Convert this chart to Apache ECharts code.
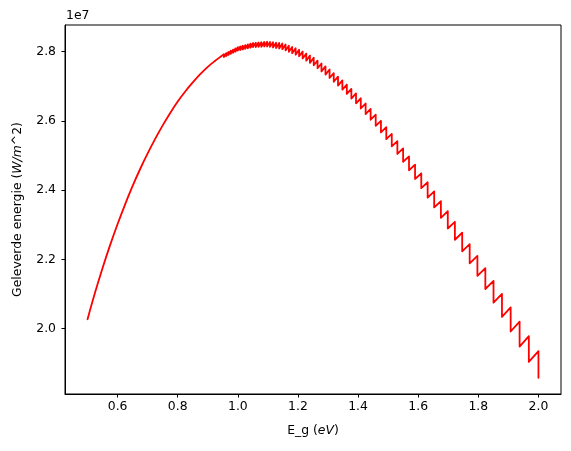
<!DOCTYPE html>
<html>
<head>
<meta charset="utf-8">
<script src="https://cdn.jsdelivr.net/npm/echarts@6/dist/echarts.min.js"></script>
<style>
html,body{margin:0;padding:0;background:#fff;}
#c{width:571px;height:451px;}
</style>
</head>
<body>
<div id="c"></div>
<script>
// Smooth low-energy part (E_g in eV, energy in units of 1e7 W/m^2)
const smoothE = [0.5, 0.525, 0.55, 0.575, 0.6, 0.625, 0.65, 0.675, 0.7, 0.725, 0.75, 0.775, 0.8, 0.825, 0.85, 0.875, 0.9, 0.925];
const smoothY = [2.027, 2.104, 2.175, 2.241, 2.302, 2.359, 2.412, 2.461, 2.506, 2.548, 2.587, 2.623, 2.656, 2.685, 2.711, 2.735, 2.756, 2.774];

// Saw-tooth part: position of each drop, value just before (peak) and after (bottom)
const toothE = [0.9537,0.9611,0.9686,0.9763,0.9840,0.9919,0.9999,1.0080,1.0163,1.0247,
  1.0332,1.0419,1.0507,1.0597,1.0688,1.0781,1.0876,1.0972,1.1070,1.1170,
  1.1271,1.1375,1.1480,1.1587,1.1697,1.1808,1.1922,1.2037,1.2155,1.2276,
  1.2398,1.2524,1.2651,1.2782,1.2915,1.3051,1.3190,1.3332,1.3477,1.3625,
  1.3776,1.3931,1.4089,1.4251,1.4417,1.4586,1.4760,1.4938,1.5120,1.5307,
  1.5498,1.5694,1.5895,1.6102,1.6314,1.6531,1.6755,1.6984,1.7220,1.7463,
  1.7712,1.7969,1.8233,1.8505,1.8786,1.9075,1.9373,1.9680,2.0000];
const toothPeak = [2.7927,2.7959,2.7992,2.8026,2.8060,2.8095,2.8130,2.8150,2.8170,2.8189,
  2.8210,2.8231,2.8250,2.8258,2.8265,2.8273,2.8281,2.8288,2.8282,2.8271,
  2.8259,2.8248,2.8235,2.8205,2.8171,2.8135,2.8100,2.8058,2.8002,2.7944,
  2.7886,2.7822,2.7742,2.7659,2.7574,2.7483,2.7381,2.7277,2.7169,2.7049,
  2.6923,2.6792,2.6653,2.6502,2.6348,2.6182,2.6002,2.5819,2.5622,2.5416,
  2.5205,2.4973,2.4735,2.4485,2.4227,2.3961,2.3679,2.3391,2.3084,2.2769,
  2.2441,2.2101,2.1746,2.1379,2.1002,2.0611,2.0200,1.9780,1.9349];
const toothBottom = [2.7846,2.7875,2.7905,2.7935,2.7966,2.7998,2.8030,2.8047,2.8063,2.8079,
  2.8097,2.8114,2.8130,2.8134,2.8137,2.8142,2.8146,2.8149,2.8138,2.8122,
  2.8105,2.8089,2.8071,2.8036,2.7996,2.7955,2.7914,2.7866,2.7804,2.7740,
  2.7676,2.7606,2.7519,2.7430,2.7338,2.7240,2.7131,2.7020,2.6905,2.6778,
  2.6644,2.6506,2.6358,2.6197,2.6033,2.5857,2.5666,2.5473,2.5264,2.5044,
  2.4820,2.4574,2.4322,2.4057,2.3782,2.3499,2.3199,2.2892,2.2566,2.2232,
  2.1884,2.1523,2.1143,2.0748,2.0338,1.9915,1.9480,1.9036,1.8579];

const xTicks = [0.6, 0.8, 1.0, 1.2, 1.4, 1.6, 1.8, 2.0];
const yTicks = [2.0, 2.2, 2.4, 2.6, 2.8];

const smoothData = [];
for (let i = 0; i < smoothE.length; i++) smoothData.push([smoothE[i], smoothY[i]]);
const toothData = [[smoothE[smoothE.length - 1], smoothY[smoothY.length - 1]]];
for (let i = 0; i < toothE.length; i++) {
  toothData.push([toothE[i], toothPeak[i]]);
  toothData.push([toothE[i], toothBottom[i]]);
}

const FONT = 'DejaVu Sans';
const FS = 12.4;
const LINE = {color: '#ff0000', width: 1.8, join: 'round', cap: 'round'};
const chart = echarts.init(document.getElementById('c'), null, {renderer: 'canvas'});
chart.setOption({
  animation: false,
  backgroundColor: '#ffffff',
  grid: {left: 65, top: 25, width: 496, height: 369, show: true, borderColor: '#000', borderWidth: 1, backgroundColor: 'transparent'},
  xAxis: {
    type: 'value', min: 0.425, max: 2.075,
    axisLine: {show: true, onZero: false, lineStyle: {color: '#000', width: 1}},
    axisTick: {show: true, length: 3.5, lineStyle: {color: '#000', width: 1}, customValues: xTicks},
    axisLabel: {show: true, customValues: xTicks, margin: 7, color: '#000', fontFamily: FONT, fontSize: FS,
      formatter: v => v.toFixed(1)},
    splitLine: {show: false}
  },
  yAxis: {
    type: 'value', min: 1.811, max: 2.877,
    axisLine: {show: true, onZero: false, lineStyle: {color: '#000', width: 1}},
    axisTick: {show: true, length: 3.5, lineStyle: {color: '#000', width: 1}, customValues: yTicks},
    axisLabel: {show: true, customValues: yTicks, margin: 9, color: '#000', fontFamily: FONT, fontSize: FS,
      formatter: v => v.toFixed(1)},
    splitLine: {show: false}
  },
  series: [
    {type: 'line', data: smoothData, smooth: 0.4, showSymbol: false, symbol: 'none', lineStyle: LINE, silent: true},
    {type: 'line', data: toothData, showSymbol: false, symbol: 'none', lineStyle: LINE, silent: true}
  ],
  graphic: [
    {type: 'text', left: 66, top: 10, style: {text: '1e7', fill: '#000', fontFamily: FONT, fontSize: FS}},
    {type: 'text', x: 17.5, y: 209.5, rotation: Math.PI / 2,
      style: {text: '{n|Geleverde energie (}{i|W/m}{n|^2)}', fill: '#000',
        textAlign: 'center', textVerticalAlign: 'middle', align: 'center', verticalAlign: 'middle',
        fontFamily: FONT, fontSize: FS,
        rich: {n: {fontFamily: FONT, fontSize: FS, fill: '#000', color: '#000'},
               i: {fontFamily: FONT, fontSize: FS, fontStyle: 'italic', fill: '#000', color: '#000'}}}},
    {type: 'text', x: 313, y: 430.5,
      style: {text: '{n|E_g (}{i|eV}{n|)}', fill: '#000',
        textAlign: 'center', textVerticalAlign: 'middle', align: 'center', verticalAlign: 'middle',
        fontFamily: FONT, fontSize: FS,
        rich: {n: {fontFamily: FONT, fontSize: FS, fill: '#000', color: '#000'},
               i: {fontFamily: FONT, fontSize: FS, fontStyle: 'italic', fill: '#000', color: '#000'}}}}
  ]
});
</script>
</body>
</html>
